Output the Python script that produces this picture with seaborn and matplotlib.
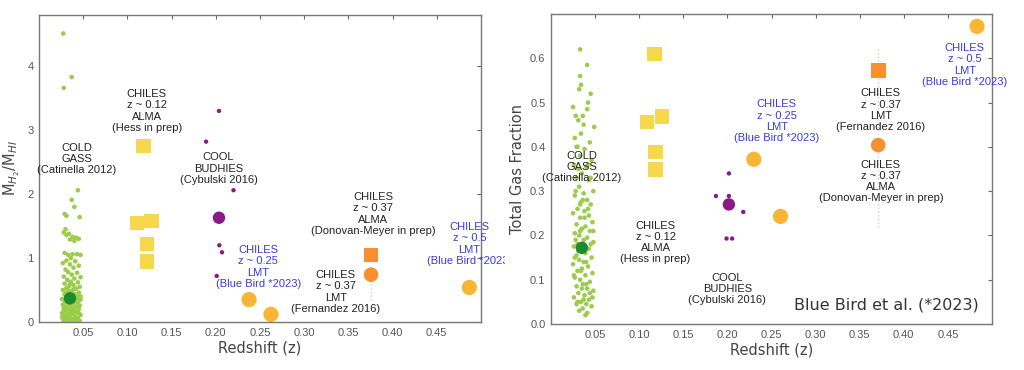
import numpy as np
import pandas as pd
import matplotlib
matplotlib.use('Agg')
from matplotlib import pyplot as plt
from matplotlib.transforms import Bbox, TransformedBbox
import seaborn as sns

# COLD GASS (Catinella 2012) sample, left panel: redshift, MH2/MHI
cg_z_left = [0.0275, 0.037, 0.028, 0.044, 0.037, 0.040, 0.029, 0.031, 0.046,
             0.030, 0.028, 0.034, 0.031, 0.038, 0.042, 0.045, 0.035, 0.040,
             0.029, 0.033, 0.038, 0.043, 0.047, 0.036, 0.031, 0.041, 0.027, 0.035, 0.045, 0.039,
             0.030, 0.033, 0.043, 0.037, 0.028, 0.047, 0.040, 0.032, 0.036, 0.044, 0.029, 0.039,
             0.034, 0.046, 0.031, 0.042, 0.027, 0.037, 0.033, 0.045, 0.040, 0.029, 0.035, 0.043,
             0.031, 0.038, 0.026, 0.047, 0.034, 0.041, 0.029, 0.036, 0.044, 0.032, 0.039, 0.027,
             0.046, 0.035, 0.042, 0.030, 0.037, 0.033, 0.045, 0.028, 0.040, 0.036, 0.031, 0.043,
             0.026, 0.038, 0.034, 0.047, 0.029, 0.041, 0.035, 0.032, 0.044, 0.027, 0.039, 0.036,
             0.030, 0.042, 0.033, 0.046, 0.028, 0.038, 0.035, 0.041, 0.031, 0.037, 0.028, 0.045,
             0.033, 0.040, 0.030, 0.047, 0.035, 0.026, 0.043, 0.038, 0.032]
cg_ratio = [4.51, 3.83, 3.66, 2.06, 1.91, 1.80, 1.69, 1.66, 1.64,
            1.45, 1.40, 1.38, 1.36, 1.33, 1.32, 1.30, 1.29, 1.27,
            1.08, 1.05, 1.06, 1.06, 1.05, 1.00, 0.96, 0.95, 0.92, 0.90, 0.88, 0.85,
            0.82, 0.78, 0.77, 0.74, 0.71, 0.70, 0.68, 0.66, 0.63, 0.62, 0.60, 0.58,
            0.56, 0.55, 0.53, 0.52, 0.50, 0.49, 0.47, 0.46, 0.44, 0.43, 0.42, 0.40,
            0.39, 0.38, 0.36, 0.35, 0.34, 0.33, 0.32, 0.31, 0.30, 0.29, 0.28, 0.27,
            0.26, 0.25, 0.24, 0.23, 0.22, 0.21, 0.20, 0.19, 0.18, 0.17, 0.16, 0.15,
            0.14, 0.13, 0.12, 0.11, 0.10, 0.09, 0.08, 0.07, 0.06, 0.05, 0.05, 0.04,
            0.03, 0.03, 0.02, 0.02, 0.01, 0.01, 0.00, 0.00, 0.12, 0.28, 0.22, 0.14,
            0.36, 0.52, 0.45, 0.40, 0.60, 0.08, 0.35, 0.20, 0.52]

# COLD GASS, right panel: redshift, total gas fraction
cg_z_right = [0.033, 0.041, 0.033, 0.034, 0.032, 0.042, 0.025, 0.041, 0.028, 0.031, 0.037, 0.049,
              0.034, 0.027, 0.044, 0.030, 0.038, 0.033, 0.046, 0.026, 0.040, 0.035, 0.029, 0.043,
              0.032, 0.048, 0.037, 0.027, 0.041, 0.034, 0.045, 0.030, 0.038, 0.025, 0.043, 0.033,
              0.047, 0.029, 0.039, 0.035, 0.044, 0.027, 0.032, 0.041, 0.037, 0.048, 0.030, 0.026,
              0.043, 0.034, 0.039, 0.029, 0.046, 0.032, 0.037, 0.025, 0.042, 0.035, 0.030, 0.047,
              0.039, 0.027, 0.033, 0.044, 0.036, 0.029, 0.041, 0.048, 0.031, 0.038, 0.026, 0.043,
              0.034, 0.040, 0.029, 0.046, 0.036, 0.032, 0.041, 0.039, 0.028, 0.045, 0.031, 0.036,
              0.042, 0.028, 0.045, 0.033, 0.040, 0.026, 0.044, 0.030, 0.047, 0.035, 0.038, 0.031,
              0.042, 0.029, 0.036, 0.045, 0.033, 0.040, 0.027, 0.048, 0.034, 0.037]
cg_fgas = [0.620, 0.585, 0.560, 0.540, 0.530, 0.500, 0.490, 0.485, 0.470, 0.460, 0.450, 0.445,
           0.430, 0.420, 0.410, 0.400, 0.395, 0.380, 0.370, 0.360, 0.355, 0.340, 0.330, 0.325,
           0.310, 0.300, 0.295, 0.290, 0.280, 0.275, 0.270, 0.260, 0.255, 0.250, 0.245, 0.240,
           0.230, 0.225, 0.220, 0.215, 0.210, 0.205, 0.200, 0.195, 0.190, 0.185, 0.180, 0.175,
           0.170, 0.165, 0.160, 0.155, 0.150, 0.145, 0.140, 0.135, 0.130, 0.125, 0.120, 0.115,
           0.110, 0.105, 0.100, 0.095, 0.090, 0.085, 0.080, 0.075, 0.070, 0.065, 0.060, 0.055,
           0.050, 0.045, 0.045, 0.040, 0.035, 0.030, 0.025, 0.020, 0.300, 0.330, 0.350, 0.280,
           0.260, 0.190, 0.180, 0.210, 0.140, 0.110, 0.070, 0.050, 0.060, 0.080, 0.240, 0.165,
           0.360, 0.400, 0.470, 0.520, 0.270, 0.090, 0.150, 0.210, 0.120, 0.055]

# COLD GASS median
cg_med_z = [0.035]
cg_med_ratio = [0.37]
cg_med_fgas = [0.172]

# CHILES z~0.12 ALMA (Hess in prep)
alma12_z_left = [0.118, 0.111, 0.1275, 0.122, 0.122]
alma12_ratio = [2.75, 1.55, 1.58, 1.22, 0.95]
alma12_z_right = [0.1174, 0.109, 0.126, 0.1186, 0.1186]
alma12_fgas = [0.61, 0.456, 0.469, 0.388, 0.349]

# COOL BUDHIES (Cybulski 2016)
budhies_z_left = [0.189, 0.2036, 0.22, 0.204, 0.207, 0.201]
budhies_ratio = [2.82, 3.30, 2.06, 1.20, 1.09, 0.72]
budhies_z_right = [0.2017, 0.187, 0.2017, 0.218, 0.199, 0.2054]
budhies_fgas = [0.34, 0.289, 0.289, 0.253, 0.193, 0.193]
budhies_med_z = [0.2036]
budhies_med_ratio = [1.63]
budhies_med_z_right = [0.2017]
budhies_med_fgas = [0.27]

# CHILES LMT (Blue Bird *2023)
lmt_z_left = [0.2376, 0.2624, 0.4868]
lmt_ratio = [0.35, 0.12, 0.54]
lmt_z_right = [0.230, 0.2602, 0.483]
lmt_fgas = [0.372, 0.243, 0.672]

# CHILES z~0.37: ALMA (Donovan-Meyer) square, LMT (Fernandez 2016) circle
z37_left = [0.3756]
alma37_ratio = [1.05]
lmt37_ratio = [0.74]
lmt37_ratio_err = [(0.34, 0.74)]
z37_right = [0.371]
lmt37_fgas = [0.572]
alma37_fgas = [0.404]
alma37_fgas_err = [(0.22, 0.62)]

c_green = '#9ccc4c'
c_dkgreen = '#1e8a2e'
c_yellow = '#f7d84a'
c_purple = '#8a1a86'
c_gold = '#fbb534'
c_orange = '#f98f2e'
c_blue = '#3b3bd6'
c_text = '#222222'

sns.set_style('white')
plt.rcParams['font.family'] = ['Liberation Sans', 'DejaVu Sans']

fig = plt.figure(figsize=(10.24, 3.70), dpi=100)
ax1 = fig.add_axes([39 / 1024, 48 / 370, 442 / 1024, 307 / 370])
ax2 = fig.add_axes([551 / 1024, 46 / 370, 441 / 1024, 310 / 370])


def scat(ax, x, y, color, size, marker='o', z=2):
    df = pd.DataFrame({'x': x, 'y': y})
    sns.scatterplot(data=df, x='x', y='y', color=color, s=size, marker=marker,
                    edgecolor='none', linewidth=0, ax=ax, zorder=z)


# left panel
ax1.vlines(z37_left, [e[0] for e in lmt37_ratio_err], [e[1] for e in lmt37_ratio_err],
           colors='#cfcfcf', linewidth=1, linestyles=':', zorder=1)
scat(ax1, cg_z_left, cg_ratio, c_green, 11)
scat(ax1, cg_med_z, cg_med_ratio, c_dkgreen, 80, z=3)
scat(ax1, alma12_z_left, alma12_ratio, c_yellow, 110, marker='s')
scat(ax1, budhies_z_left, budhies_ratio, c_purple, 10)
scat(ax1, budhies_med_z, budhies_med_ratio, c_purple, 80)
scat(ax1, lmt_z_left, lmt_ratio, c_gold, 120)
scat(ax1, z37_left, alma37_ratio, c_orange, 110, marker='s')
scat(ax1, z37_left, lmt37_ratio, c_orange, 110)

# right panel
ax2.vlines(z37_right, [e[0] for e in alma37_fgas_err], [e[1] for e in alma37_fgas_err],
           colors='#cfcfcf', linewidth=1, linestyles=':', zorder=1)
scat(ax2, cg_z_right, cg_fgas, c_green, 11)
scat(ax2, cg_med_z, cg_med_fgas, c_dkgreen, 80, z=3)
scat(ax2, alma12_z_right, alma12_fgas, c_yellow, 110, marker='s')
scat(ax2, budhies_z_right, budhies_fgas, c_purple, 10)
scat(ax2, budhies_med_z_right, budhies_med_fgas, c_purple, 80)
scat(ax2, lmt_z_right, lmt_fgas, c_gold, 120)
scat(ax2, z37_right, lmt37_fgas, c_orange, 110, marker='s')
scat(ax2, z37_right, alma37_fgas, c_orange, 110)

txt = dict(ha='center', va='center', fontsize=8, linespacing=1.15, zorder=4)
ax1.text(0.043, 2.55, 'COLD\nGASS\n(Catinella 2012)', color=c_text, **txt)
ax1.text(0.122, 3.30, 'CHILES\nz ~ 0.12\nALMA\n(Hess in prep)', color=c_text, **txt)
ax1.text(0.203, 2.40, 'COOL\nBUDHIES\n(Cybulski 2016)', color=c_text, **txt)
ax1.text(0.248, 0.86, 'CHILES\nz ~ 0.25\nLMT\n(Blue Bird *2023)', color=c_blue, **txt)
ax1.text(0.378, 1.69, 'CHILES\nz ~ 0.37\nALMA\n(Donovan-Meyer in prep)', color=c_text, **txt)
ax1.text(0.3356, 0.47, 'CHILES\nz ~ 0.37\nLMT\n(Fernandez 2016)', color=c_text, **txt)
t = ax1.text(0.4868, 1.22, 'CHILES\nz ~ 0.5\nLMT\n(Blue Bird *2023)', color=c_blue, **txt)
t.set_clip_box(TransformedBbox(Bbox([[0, 0], [505 / 1024, 1]]), fig.transFigure))
t.set_clip_on(True)

ax2.text(0.0347, 0.354, 'COLD\nGASS\n(Catinella 2012)', color=c_text, **txt)
ax2.text(0.1186, 0.184, 'CHILES\nz ~ 0.12\nALMA\n(Hess in prep)', color=c_text, **txt)
ax2.text(0.200, 0.079, 'COOL\nBUDHIES\n(Cybulski 2016)', color=c_text, **txt)
ax2.text(0.256, 0.458, 'CHILES\nz ~ 0.25\nLMT\n(Blue Bird *2023)', color=c_blue, **txt)
ax2.text(0.374, 0.483, 'CHILES\nz ~ 0.37\nLMT\n(Fernandez 2016)', color=c_text, **txt)
ax2.text(0.374, 0.322, 'CHILES\nz ~ 0.37\nALMA\n(Donovan-Meyer in prep)', color=c_text, **txt)
ax2.text(0.469, 0.585, 'CHILES\nz ~ 0.5\nLMT\n(Blue Bird *2023)', color=c_blue, **txt)
ax2.text(0.485, 0.025, 'Blue Bird et al. (*2023)', ha='right', va='bottom',
         fontsize=11.5, color='#333333', family=['DejaVu Sans'])

for ax in (ax1, ax2):
    ax.set_xlim(0, 0.5)
    ax.set_xticks([0.05, 0.10, 0.15, 0.20, 0.25, 0.30, 0.35, 0.40, 0.45])
    ax.set_xticklabels(['0.05', '0.10', '0.15', '0.20', '0.25', '0.30', '0.35', '0.40', '0.45'])
    ax.tick_params(direction='in', length=3, width=0.8, top=True, right=True,
                   labelsize=8, colors='#666666', labelcolor='#555555', pad=4)
    for sp in ax.spines.values():
        sp.set_color('#777777')
        sp.set_linewidth(1.0)
    ax.set_xlabel('Redshift (z)', fontsize=10.5, color='#444444', family=['DejaVu Sans'], labelpad=2)

ax1.set_ylim(0, 4.8)
ax1.set_yticks([0, 1, 2, 3, 4])
ax1.set_ylabel(r'M$_{H_2}$/M$_{HI}$', fontsize=10.5, color='#444444', family=['DejaVu Sans'], labelpad=4)
ax2.set_ylim(0, 0.7)
ax2.set_yticks([0.0, 0.1, 0.2, 0.3, 0.4, 0.5, 0.6])
ax2.set_yticklabels(['0.0', '0.1', '0.2', '0.3', '0.4', '0.5', '0.6'])
ax2.set_ylabel('Total Gas Fraction', fontsize=10.5, color='#444444', family=['DejaVu Sans'], labelpad=4)

fig.savefig('out.png', dpi=100)
